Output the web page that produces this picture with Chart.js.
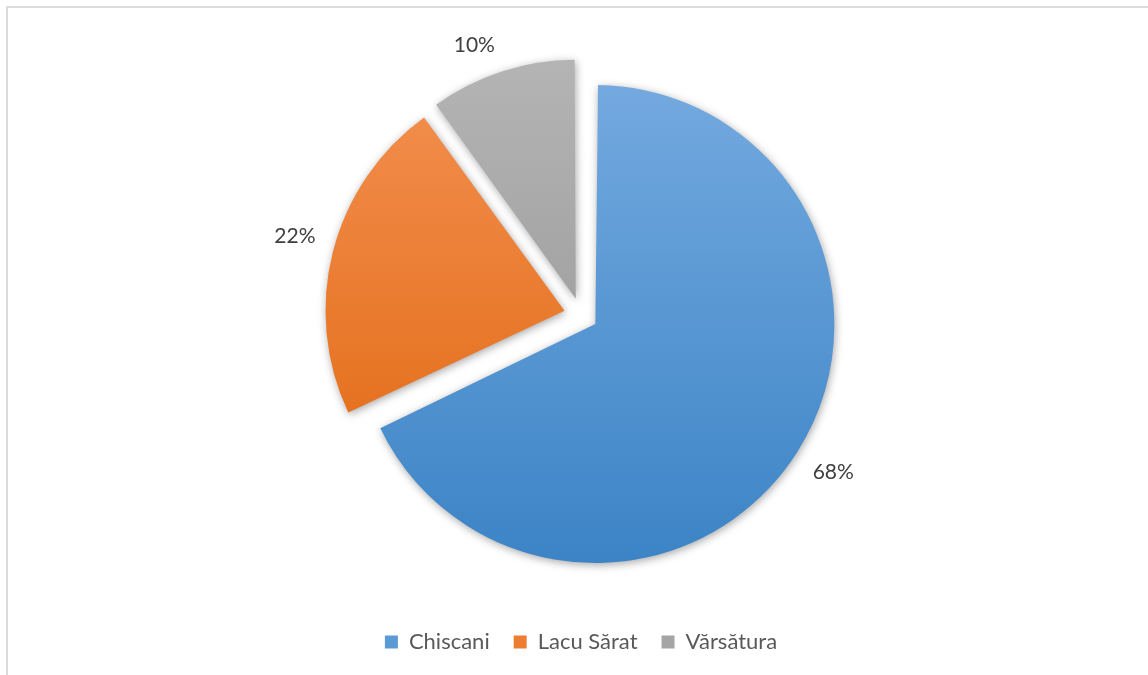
<!DOCTYPE html>
<html>
<head>
<meta charset="utf-8">
<title>Pie chart</title>
<script src="https://cdn.jsdelivr.net/npm/chart.js@4.4.1/dist/chart.umd.min.js"></script>
<style>
    html, body { margin: 0; padding: 0; background: #fff; overflow: hidden; }
    #wrap { position: relative; width: 1148px; height: 675px; overflow: hidden; }
    #frame {
        position: absolute; left: 6px; top: 6px;
        width: 1170px; height: 700px;
        border: 2px solid #dcdcdc; box-sizing: border-box;
    }
    #pieChart { position: absolute; left: 0; top: 0; }
</style>
</head>
<body>
<div id="wrap">
    <div id="frame"></div>
    <canvas id="pieChart" width="1148" height="675"></canvas>
</div>
<script>
// Data
const categories = ["Chiscani", "Lacu Sărat", "Vărsătura"];
const shares = [68, 22, 10];

// Slice colours (Office theme with a light-to-dark vertical gradient)
const baseColors = ["#5b9bd5", "#ed7d31", "#a5a5a5"];
const topColors = ["#73a9df", "#f39050", "#b4b4b4"];
const bottomColors = ["#3c84c6", "#e0660e", "#929292"];

const PIE_RADIUS = 239;   // px
const EXPLODE = 17;       // px each slice is pulled out
const OFFSET_DIV = 4;     // Chart.js v4 arcs translate by offset / 4
const LABEL_GAP = 16;

Chart.defaults.font.family = "Lato, 'Open Sans', sans-serif";

/**
 * Vertical gradient over the whole pie for a slice
 */
function sliceGradient(context) {
    const chart = context.chart;
    const area = chart.chartArea;
    const i = context.dataIndex;
    if (!area || i === undefined) return baseColors[i] || baseColors[0];
    const cy = (area.top + area.bottom) / 2;
    const g = chart.ctx.createLinearGradient(0, cy - PIE_RADIUS, 0, cy + PIE_RADIUS);
    g.addColorStop(0, topColors[i]);
    g.addColorStop(1, bottomColors[i]);
    return g;
}

// Soft shadow under the slices; also keeps every slice at the same radius
const sliceShadow = {
    id: "sliceShadow",
    beforeDatasetsDraw(chart) {
        const meta = chart.getDatasetMeta(0);
        meta.data.forEach((arc) => {
            const fix = 1 - Math.sin(Math.min(Math.PI, arc.circumference));
            arc.outerRadius = PIE_RADIUS - (EXPLODE * fix);
        });
        const ctx = chart.ctx;
        ctx.save();
        ctx.shadowColor = "rgba(0, 0, 0, 0.35)";
        ctx.shadowBlur = 9;
        ctx.shadowOffsetX = 1;
        ctx.shadowOffsetY = 2;
    },
    afterDatasetsDraw(chart) {
        chart.ctx.restore();
    },
};

// Percentage labels outside each slice: the label box corner nearest
// the slice sits on the slice's mid line, a little past the rim
const outsideLabels = {
    id: "outsideLabels",
    afterDatasetsDraw(chart) {
        const ctx = chart.ctx;
        const meta = chart.getDatasetMeta(0);
        ctx.save();
        ctx.font = "21px Lato, 'Open Sans', sans-serif";
        ctx.fillStyle = "#404040";
        ctx.textAlign = "center";
        ctx.textBaseline = "middle";
        meta.data.forEach((arc, i) => {
            const text = `${shares[i]}%`;
            const mid = (arc.startAngle + arc.endAngle) / 2;
            const ux = Math.cos(mid);
            const uy = Math.sin(mid);
            const hw = ctx.measureText(text).width / 2 + 2;
            const hh = 11;
            const d = EXPLODE + PIE_RADIUS + LABEL_GAP;
            const x = arc.x + ux * d + Math.sign(ux) * hw;
            const y = arc.y + uy * d + Math.sign(uy) * hh;
            ctx.fillText(text, x, y);
        });
        ctx.restore();
    },
};

new Chart(document.getElementById("pieChart"), {
    type: "pie",
    data: {
        labels: categories,
        datasets: [
            {
                data: shares,
                backgroundColor: sliceGradient,
                borderWidth: 0,
                offset: EXPLODE * OFFSET_DIV,
            },
        ],
    },
    options: {
        responsive: false,
        animation: false,
        radius: PIE_RADIUS,
        layout: {
            padding: { left: 30, right: 16, top: 23, bottom: 12 },
        },
        plugins: {
            tooltip: { enabled: false },
            legend: {
                position: "bottom",
                labels: {
                    boxWidth: 13,
                    boxHeight: 13,
                    padding: 24,
                    color: "#595959",
                    font: { size: 22 },
                    generateLabels(chart) {
                        const items = Chart.overrides.pie.plugins.legend.labels.generateLabels(chart);
                        return items.map((item, i) => ({
                            ...item,
                            fillStyle: baseColors[i],
                            strokeStyle: baseColors[i],
                            lineWidth: 0,
                        }));
                    },
                },
            },
        },
    },
    plugins: [sliceShadow, outsideLabels],
});
</script>
</body>
</html>
